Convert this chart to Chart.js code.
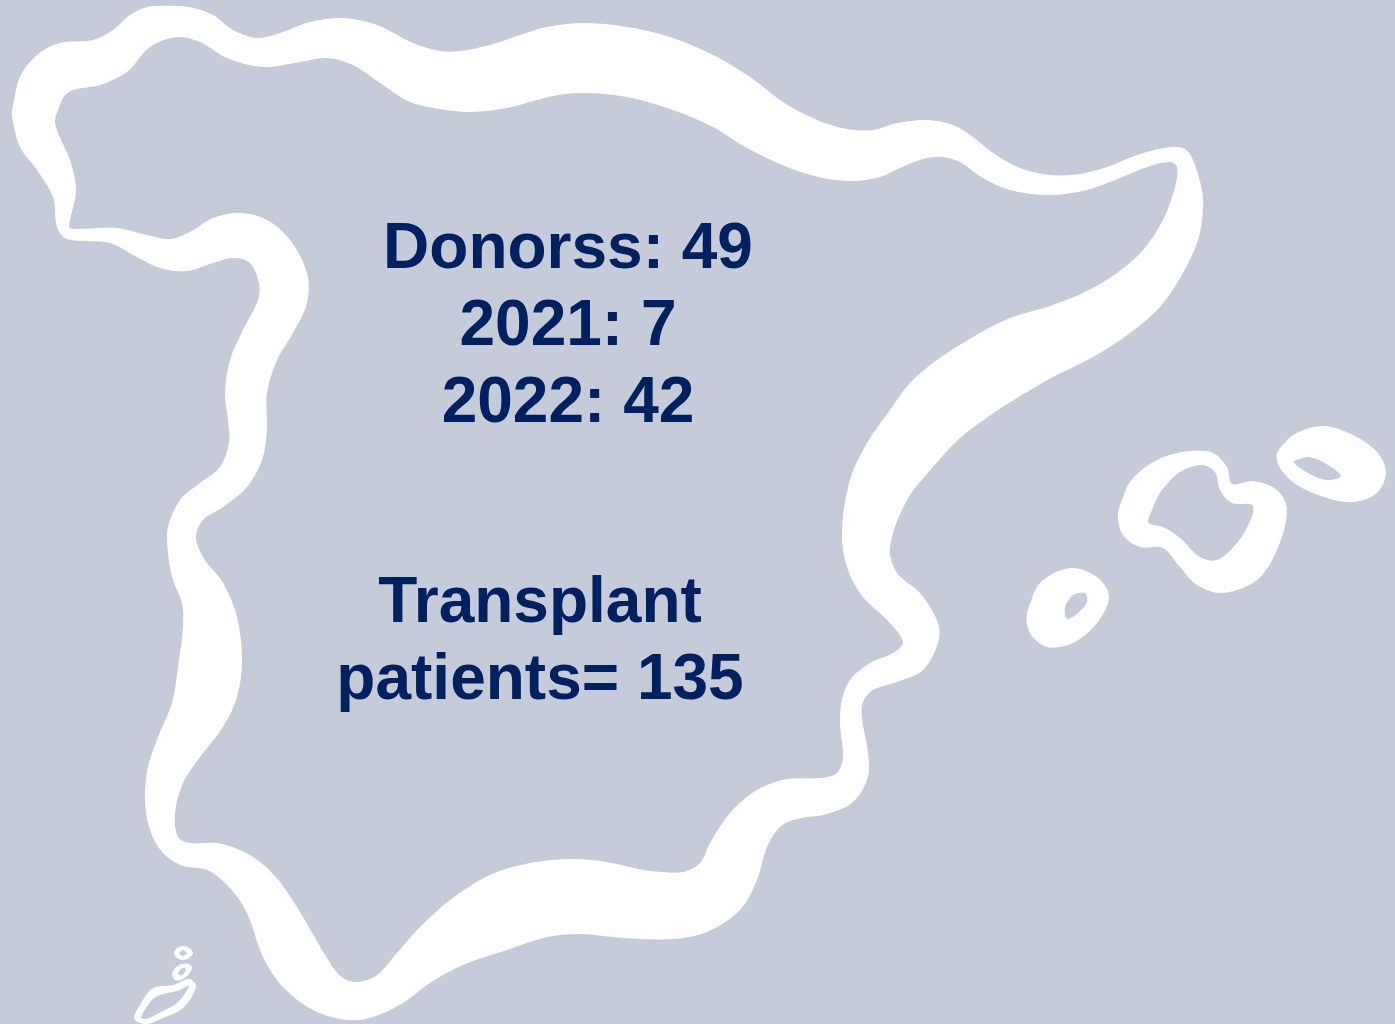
<!DOCTYPE html>
<html>
<head>
<meta charset="utf-8">
<title>Donors map</title>
<script src="https://cdn.jsdelivr.net/npm/chart.js@4/dist/chart.umd.min.js"></script>
<style>
  html, body { margin: 0; padding: 0; background: #c5cbd9; overflow: hidden; }
  canvas { display: block; }
</style>
</head>
<body>
<canvas id="map" width="1395" height="1024"></canvas>
<script>
"use strict";
// outlines, x/y in picture units
var mainlandOuter = [[12,110],[20,77],[37,55],[60,43],[93,40],[113,30],[130,15],[147,7],[160,6],[175,6],[190,7],[213,15],[233,30],[257,38],[280,33],[310,22],[343,18],[377,25],[413,43],[440,51],[460,51],[490,45],[520,35],[547,27],[583,23],[627,27],[673,38],[717,57],[750,77],[783,102],[817,120],[847,129],[873,130],[897,123],[927,120],[953,125],[973,137],[993,153],[1020,168],[1050,175],[1080,174],[1107,167],[1137,155],[1170,147],[1185,149],[1193,160],[1202,190],[1203,210],[1198,240],[1183,273],[1160,307],[1130,333],[1093,357],[1053,377],[1027,392],[998,410],[960,438],[933,467],[907,500],[890,547],[897,573],[920,593],[938,623],[938,643],[923,670],[897,682],[873,690],[863,702],[862,718],[868,753],[868,777],[853,802],[827,814],[797,819],[780,827],[767,847],[757,880],[740,910],[707,932],[673,939],[623,938],[580,934],[547,937],[507,950],[463,965],[430,983],[403,1003],[373,1017],[347,1020],[313,1010],[283,987],[263,957],[247,913],[230,888],[207,870],[183,866],[163,853],[150,830],[145,800],[148,767],[158,737],[172,703],[178,667],[183,627],[182,603],[173,580],[168,553],[168,527],[180,500],[200,483],[220,467],[229,443],[228,420],[225,393],[230,360],[243,330],[258,300],[259,283],[250,263],[233,258],[213,263],[187,271],[160,268],[133,255],[110,243],[67,239],[57,227],[53,197],[37,170],[20,147],[12,117]];
var mainlandInner = [[55,120],[63,98],[73,90],[100,85],[127,72],[150,47],[177,37],[200,42],[227,58],[263,67],[300,62],[327,58],[353,65],[380,83],[410,102],[440,109],[470,112],[507,108],[553,96],[583,93],[627,97],[673,110],[713,127],[747,148],[787,167],[823,178],[853,181],[880,177],[900,168],[923,159],[943,157],[960,162],[983,178],[1010,190],[1050,195],[1087,190],[1120,178],[1147,167],[1170,162],[1177,167],[1175,187],[1163,220],[1143,250],[1117,273],[1083,293],[1047,307],[1010,318],[973,337],[937,360],[910,383],[890,410],[867,443],[850,480],[842,530],[847,567],[863,597],[887,620],[903,642],[893,653],[870,663],[850,680],[842,700],[840,723],[843,757],[837,773],[820,778],[787,779],[757,790],[730,813],[710,843],[700,863],[683,872],[663,872],[643,870],[607,862],[573,859],[530,863],[490,875],[450,900],[420,927],[397,953],[377,975],[358,982],[343,978],[330,963],[303,917],[280,882],[260,862],[240,850],[217,843],[190,843],[178,837],[175,813],[183,783],[200,757],[223,727],[237,697],[242,660],[237,617],[223,583],[203,557],[196,537],[203,520],[223,507],[247,487],[262,460],[267,430],[267,393],[277,360],[293,333],[307,303],[307,273],[290,240],[267,220],[240,213],[213,218],[190,232],[170,239],[147,235],[117,228],[73,229],[69,227],[76,190],[70,160],[58,133]];
var ibizaOuter = [[1027,613],[1040,583],[1070,568],[1097,577],[1109,597],[1097,623],[1073,643],[1047,647],[1030,633]];
var ibizaInner = [[1065,607],[1073,595],[1085,593],[1087,602],[1078,613],[1067,619]];
var mallorcaOuter = [[1118,513],[1130,482],[1157,460],[1190,451],[1213,453],[1227,467],[1232,484],[1253,481],[1277,490],[1287,510],[1277,550],[1257,580],[1223,593],[1197,585],[1180,567],[1163,548],[1140,547],[1123,535]];
var mallorcaInner = [[1148,520],[1160,493],[1180,472],[1202,465],[1215,472],[1220,490],[1232,503],[1252,505],[1252,517],[1237,543],[1217,560],[1200,557],[1180,538],[1163,527],[1150,524]];
var menorcaOuter = [[1277,453],[1293,435],[1323,426],[1353,435],[1377,452],[1386,472],[1377,493],[1353,502],[1327,498],[1297,485],[1280,468]];
var menorcaInner = [[1294,462],[1307,457],[1323,462],[1341,476],[1327,480],[1308,473]];
var canaryAOuter = [[174,953],[177,948],[183,946],[189,948],[193,953],[189,958],[183,960],[177,958]];
var canaryAInner = [[179,953],[181,951],[183,950],[185,951],[187,953],[185,955],[183,956],[181,955]];
var canaryBOuter = [[172,974],[175,968],[182,964],[189,964],[192,968],[188,975],[181,980],[175,980]];
var canaryBInner = [[178,973],[180,970],[183,968],[186,969],[185,972],[182,975],[179,975]];
var canaryCOuter = [[134,1018],[143,1000],[153,988],[173,985],[190,979],[196,987],[183,1008],[163,1018],[145,1024]];
var canaryCInner = [[141,1017],[151,1001],[160,995],[177,991],[189,986],[178,1002],[163,1011],[146,1019]];

var textLines = ["Donorss: 49", "2021: 7", "2022: 42", "Transplant", "patients= 135"];
var textAnchors = [[568,268],[568,345],[568,422],[540,622],[540,699]];

var waterColor = "#c5cbd9", landColor = "#ffffff", textColor = "#002060";

function shape(points, color) {
  // run on past the start so the curve closes without a corner
  return {
    data: points.concat([points[0], points[1]]).map(function (p) { return {x: p[0], y: p[1]}; }),
    showLine: true,
    fill: "shape",
    backgroundColor: color,
    borderColor: color,
    borderWidth: 0,
    pointRadius: 0,
    tension: 0.33
  };
}

var textPlugin = {
  id: "mapText",
  afterDatasetsDraw: function (chart) {
    var c = chart.ctx;
    c.save();
    c.font = "bold 64px 'Liberation Sans'";
    c.fillStyle = textColor;
    c.textAlign = "center";
    c.textBaseline = "alphabetic";
    textLines.forEach(function (line, i) {
      c.fillText(line, chart.scales.x.getPixelForValue(textAnchors[i][0]), chart.scales.y.getPixelForValue(textAnchors[i][1]));
    });
    c.restore();
  }
};

new Chart(document.getElementById("map"), {
  type: "scatter",
  data: {
    datasets: [
      shape(mainlandInner, waterColor), shape(mainlandOuter, landColor),
      shape(ibizaInner, waterColor), shape(ibizaOuter, landColor),
      shape(mallorcaInner, waterColor), shape(mallorcaOuter, landColor),
      shape(menorcaInner, waterColor), shape(menorcaOuter, landColor),
      shape(canaryAInner, waterColor), shape(canaryAOuter, landColor),
      shape(canaryBInner, waterColor), shape(canaryBOuter, landColor),
      shape(canaryCInner, waterColor), shape(canaryCOuter, landColor)
    ]
  },
  options: {
    responsive: false,
    animation: false,
    plugins: {legend: {display: false}, tooltip: {enabled: false}},
    layout: {padding: 0},
    scales: {
      x: {type: "linear", display: false, min: 0, max: 1395},
      y: {type: "linear", display: false, min: 0, max: 1024, reverse: true}
    }
  },
  plugins: [textPlugin]
});
</script>
</body>
</html>
